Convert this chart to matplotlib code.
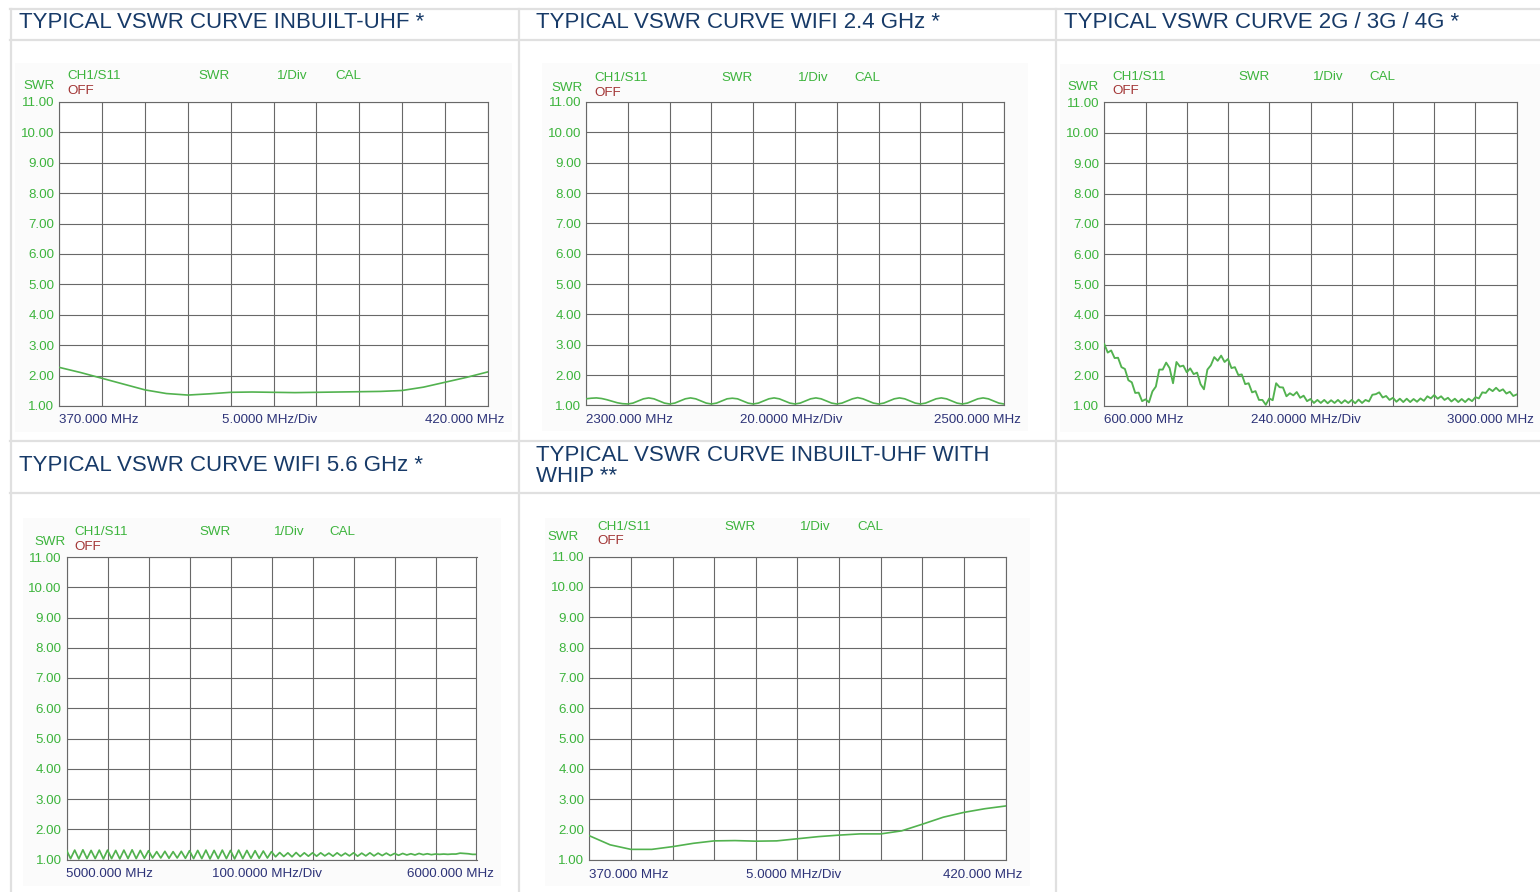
import numpy as np
import matplotlib
matplotlib.use("Agg")
import matplotlib.pyplot as plt
from matplotlib.lines import Line2D
from matplotlib.patches import Rectangle

plt.rcParams['font.family'] = ['Liberation Sans', 'DejaVu Sans']

W, H = 1540, 892

# ---------------- data ----------------
headers = ["TYPICAL VSWR CURVE INBUILT-UHF *",
           "TYPICAL VSWR CURVE WIFI 2.4 GHz *",
           "TYPICAL VSWR CURVE 2G / 3G / 4G *",
           "TYPICAL VSWR CURVE WIFI 5.6 GHz *",
           "TYPICAL VSWR CURVE INBUILT-UHF WITH\nWHIP **"]

start_labels = ["370.000 MHz", "2300.000 MHz", "600.000 MHz", "5000.000 MHz", "370.000 MHz"]
div_labels = ["5.0000 MHz/Div", "20.0000 MHz/Div", "240.0000 MHz/Div", "100.0000 MHz/Div", "5.0000 MHz/Div"]
stop_labels = ["420.000 MHz", "2500.000 MHz", "3000.000 MHz", "6000.000 MHz", "420.000 MHz"]
f_start = [370, 2300, 600, 5000, 370]
f_stop = [420, 2500, 3000, 6000, 420]

swr_ticks = [1, 2, 3, 4, 5, 6, 7, 8, 9, 10, 11]
swr_tick_labels = ["1.00", "2.00", "3.00", "4.00", "5.00", "6.00",
                   "7.00", "8.00", "9.00", "10.00", "11.00"]
status_labels = ["CH1/S11", "SWR", "1/Div", "CAL"]

# SWR values, evenly spaced sweep points from start to stop
uhf_swr = [2.27, 2.10, 1.91, 1.72, 1.53, 1.41, 1.36, 1.40, 1.45, 1.46, 1.45,
           1.44, 1.45, 1.46, 1.47, 1.48, 1.51, 1.62, 1.78, 1.94, 2.12]

wifi24_swr = [1.22, 1.24, 1.25, 1.23, 1.19, 1.14, 1.09, 1.06, 1.05,
              1.08, 1.15, 1.22, 1.25, 1.22, 1.15, 1.08, 1.05,
              1.08, 1.15, 1.22, 1.25, 1.22, 1.15, 1.08, 1.05,
              1.08, 1.15, 1.22, 1.24, 1.22, 1.15, 1.08, 1.05,
              1.08, 1.15, 1.22, 1.25, 1.22, 1.15, 1.08, 1.05,
              1.08, 1.15, 1.22, 1.25, 1.22, 1.15, 1.08, 1.05,
              1.08, 1.15, 1.22, 1.26, 1.22, 1.15, 1.08, 1.05,
              1.08, 1.15, 1.22, 1.25, 1.22, 1.15, 1.08, 1.05,
              1.08, 1.15, 1.22, 1.25, 1.22, 1.15, 1.08, 1.05,
              1.08, 1.15, 1.22, 1.25, 1.22, 1.15, 1.08, 1.05]

cell_swr = [3.04, 2.76, 2.83, 2.58, 2.59, 2.28, 2.22, 1.85, 1.78, 1.43, 1.44, 1.16, 1.22,
            1.12, 1.48, 1.64, 2.20, 2.20, 2.43, 2.25, 1.75, 2.45, 2.30, 2.33, 2.11,
            2.24, 2.05, 2.10, 1.72, 1.55, 2.20, 2.34, 2.61, 2.49, 2.66, 2.45, 2.55,
            2.25, 2.28, 2.02, 2.04, 1.72, 1.75, 1.45, 1.49, 1.20, 1.20, 1.04, 1.25,
            1.19, 1.75, 1.62, 1.61, 1.32, 1.42, 1.35, 1.46, 1.27, 1.34, 1.16, 1.23,
            1.10, 1.20, 1.10, 1.20, 1.09, 1.19, 1.10, 1.20, 1.09, 1.19, 1.10, 1.20,
            1.09, 1.21, 1.10, 1.20, 1.15, 1.37, 1.39, 1.45, 1.28, 1.33, 1.20, 1.27,
            1.14, 1.24, 1.13, 1.24, 1.13, 1.23, 1.14, 1.25, 1.17, 1.32, 1.25, 1.36,
            1.24, 1.32, 1.20, 1.27, 1.15, 1.24, 1.13, 1.23, 1.13, 1.24, 1.16, 1.29,
            1.25, 1.45, 1.43, 1.57, 1.49, 1.60, 1.49, 1.55, 1.41, 1.47, 1.33, 1.38]

wifi56_swr = [1.31, 1.03, 1.31, 1.02, 1.32, 1.03, 1.30, 1.03, 1.31, 1.02, 1.31,
              1.03, 1.30, 1.02, 1.31, 1.03, 1.32, 1.03, 1.30, 1.04, 1.29,
              1.05, 1.26, 1.05, 1.27, 1.04, 1.26, 1.05, 1.27, 1.04,
              1.29, 1.03, 1.30, 1.03, 1.31, 1.02, 1.30, 1.03, 1.31, 1.03, 1.30,
              1.02, 1.31, 1.03, 1.30, 1.04, 1.29, 1.04, 1.28, 1.05, 1.26,
              1.09, 1.23, 1.10, 1.22, 1.09, 1.23, 1.10, 1.22, 1.11,
              1.22, 1.11, 1.22, 1.12, 1.21, 1.11, 1.22, 1.12, 1.21, 1.12, 1.22,
              1.11, 1.21, 1.12, 1.22, 1.12, 1.21, 1.13, 1.21, 1.13, 1.20,
              1.14, 1.20, 1.15, 1.19, 1.15, 1.20, 1.16, 1.19, 1.16,
              1.18, 1.17, 1.18, 1.17, 1.18, 1.18, 1.21, 1.20, 1.19, 1.17, 1.17]

whip_swr = [1.80, 1.50, 1.35, 1.35, 1.44, 1.55, 1.63, 1.64, 1.62, 1.63, 1.70,
            1.77, 1.82, 1.86, 1.86, 1.96, 2.18, 2.41, 2.57, 2.69, 2.78]

series = [uhf_swr, wifi24_swr, cell_swr, wifi56_swr, whip_swr]

# ---------------- layout (pixels) ----------------
# plot area: (left, top, right, bottom)
rects = [(59.3, 102.0, 487.7, 406.0),
         (586.0, 102.0, 1004.0, 405.5),
         (1104.3, 102.5, 1516.7, 406.0),
         (66.5, 557.0, 476.5, 859.5),
         (589.3, 556.5, 1005.7, 860.0)]
header_pos = [(19, 23), (536, 23), (1064, 23), (19, 466), (536, 466)]
swr_offsets = [(-20, -16), (-19, -14), (-21, -16), (-16, -15), (-26, -20)]
line_widths = [1.2, 1.2, 1.35, 1.25, 1.2]

NAVY = '#173a68'
GREEN_TXT = '#3db43d'
GREEN_LINE = '#52b24f'
RED = '#a23535'
XLAB = '#2d3378'
GRID = '#686868'
BORDER = '#e0e0e0'
FS = 9.6

fig = plt.figure(figsize=(W / 100, H / 100), dpi=100)
fig.patch.set_facecolor('white')


def fx(x):
    return x / W


def fy(y):
    return 1 - y / H


# table lines
for y in [9, 39.5, 441, 493]:
    fig.add_artist(Line2D([fx(10), fx(1540)], [fy(y), fy(y)], color=BORDER, lw=1.6))
for x in [10.5, 519, 1056]:
    fig.add_artist(Line2D([fx(x), fx(x)], [fy(9), fy(892)], color=BORDER, lw=1.6))

for i in range(5):
    l, t, r, b = rects[i]
    # faint image background
    fig.add_artist(Rectangle((fx(l - 44), fy(b + 26)), (r - l + 68) / W, (b - t + 65) / H,
                             transform=fig.transFigure, facecolor='#fbfbfb',
                             edgecolor='none', zorder=0))
    ax = fig.add_axes([fx(l), fy(b), (r - l) / W, (b - t) / H])
    ax.set_facecolor('white')
    vals = series[i]
    freq = np.linspace(f_start[i], f_stop[i], len(vals))
    ax.plot(freq, vals, color=GREEN_LINE, lw=line_widths[i], zorder=3)
    ax.set_xlim(f_start[i], f_stop[i])
    ax.set_ylim(1, 11)
    ax.set_xticks(np.linspace(f_start[i], f_stop[i], 11))
    ax.set_xticklabels([])
    ax.set_yticks(swr_ticks)
    ax.set_yticklabels(swr_tick_labels, color=GREEN_TXT, fontsize=FS)
    ax.tick_params(length=0, pad=3.5)
    ax.grid(True, color=GRID, lw=0.8)
    ax.set_axisbelow(True)
    for s in ax.spines.values():
        s.set_color(GRID)
        s.set_linewidth(0.8)

    w = r - l
    # header text
    hx, hy = header_pos[i]
    fig.text(fx(hx), fy(hy), headers[i], color=NAVY, fontsize=16,
             va='center', ha='left', linespacing=1.0)
    # status texts
    ox, oy = swr_offsets[i]
    fig.text(fx(l + ox), fy(t + oy), "SWR", color=GREEN_TXT, fontsize=FS,
             ha='center', va='center')
    fig.text(fx(l + 8), fy(t + oy - 10), status_labels[0], color=GREEN_TXT,
             fontsize=FS, ha='left', va='center')
    fig.text(fx(l + 8), fy(t + oy + 5), "OFF", color=RED,
             fontsize=FS, ha='left', va='center')
    for lab, frac in zip(status_labels[1:], [0.362, 0.543, 0.674]):
        fig.text(fx(l + frac * w), fy(t + oy - 10), lab, color=GREEN_TXT,
                 fontsize=FS, ha='center', va='center')
    # x labels
    fig.text(fx(l), fy(b + 14.5), start_labels[i], color=XLAB, fontsize=FS,
             ha='left', va='center')
    fig.text(fx(l + 0.49 * w), fy(b + 14.5), div_labels[i], color=XLAB, fontsize=FS,
             ha='center', va='center')
    fig.text(fx(r + 17), fy(b + 14.5), stop_labels[i], color=XLAB, fontsize=FS,
             ha='right', va='center')

fig.savefig("out.png", dpi=100, facecolor='white')
